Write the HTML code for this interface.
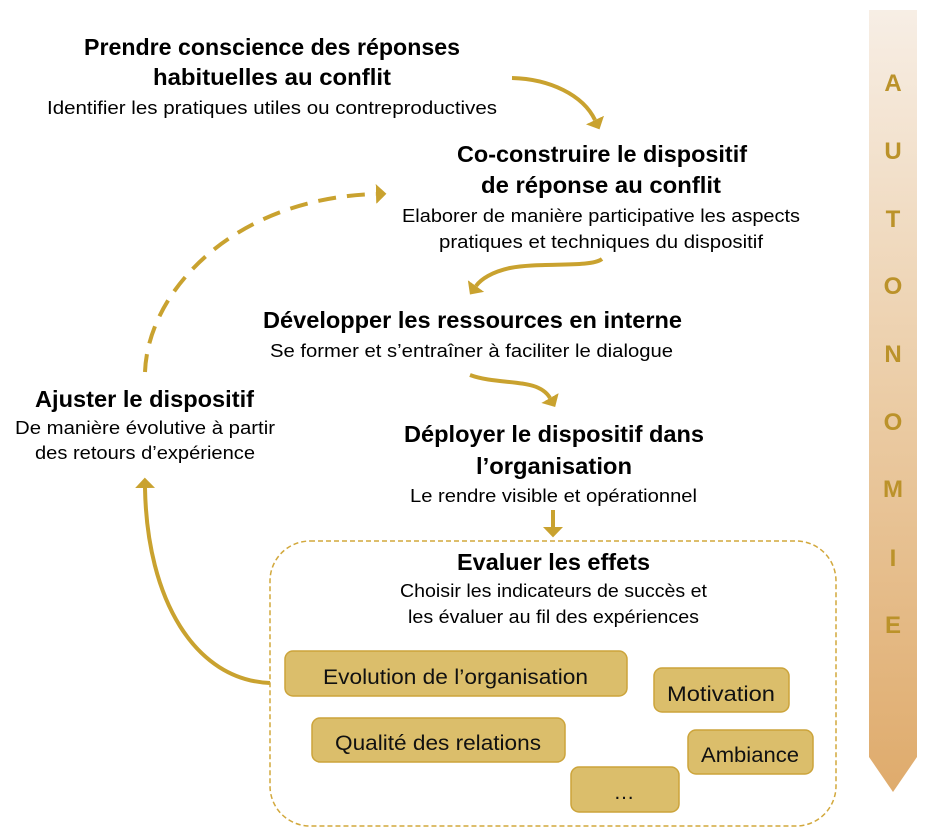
<!DOCTYPE html>
<html>
<head>
<meta charset="utf-8">
<style>
html,body{margin:0;padding:0;background:#fff;}
svg{display:block;}
text{font-family:"Liberation Sans","DejaVu Sans",sans-serif;fill:#000;}
.b{font-weight:bold;font-size:23px;}
.r{font-size:18px;}
.bx{font-size:21px;fill:#111;}
.au{font-weight:bold;font-size:24px;fill:#bb922a;}
</style>
</head>
<body>
<svg width="945" height="840" viewBox="0 0 945 840" xmlns="http://www.w3.org/2000/svg">
<defs>
<linearGradient id="ag" x1="0" y1="0" x2="0" y2="1">
<stop offset="0" stop-color="#f7eee5"/>
<stop offset="0.5" stop-color="#ebcca5"/>
<stop offset="1" stop-color="#dfab6c"/>
</linearGradient>
<marker id="ah" viewBox="0 0 10 10" refX="0" refY="5" markerWidth="2.6" markerHeight="5" orient="auto" markerUnits="strokeWidth" preserveAspectRatio="none">
<path d="M0,0 L10,5 L0,10 z" fill="#c9a22f"/>
</marker>
</defs>

<!-- AUTONOMIE arrow -->
<polygon points="869,10 917,10 917,757 893,792 869,757" fill="url(#ag)"/>
<g text-anchor="middle">
<text class="au" x="893" y="91">A</text>
<text class="au" x="893" y="159">U</text>
<text class="au" x="893" y="227">T</text>
<text class="au" x="893" y="294">O</text>
<text class="au" x="893" y="362">N</text>
<text class="au" x="893" y="430">O</text>
<text class="au" x="893" y="497">M</text>
<text class="au" x="893" y="566">I</text>
<text class="au" x="893" y="633">E</text>
</g>

<!-- connectors -->
<g fill="none" stroke="#c9a22f" stroke-width="4" stroke-linecap="butt">
<path d="M512,78 C550,79 583,95 595,120" marker-end="url(#ah)"/>
<path d="M602,259 C590,268 540,262 510,268 C492,272 481,279 476,286" marker-end="url(#ah)"/>
<path d="M470,375 C500,386 538,377 550,398" marker-end="url(#ah)"/>
<path d="M553,510 L553,527" marker-end="url(#ah)"/>
<path d="M270,683 C195,680 147,600 145,488" marker-end="url(#ah)"/>
<path d="M145,372 C148,290 235,198 376,194" stroke-dasharray="18 11" marker-end="url(#ah)"/>
</g>

<!-- dashed container -->
<rect x="270" y="541" width="566" height="285" rx="40" ry="40" fill="none" stroke="#d2a83c" stroke-width="1.5" stroke-dasharray="5 3"/>

<!-- boxes -->
<g fill="#dbbe6b" stroke="#cca43a" stroke-width="1.5">
<rect x="285" y="651" width="342" height="45" rx="8"/>
<rect x="654" y="668" width="135" height="44" rx="8"/>
<rect x="312" y="718" width="253" height="44" rx="8"/>
<rect x="688" y="730" width="125" height="44" rx="8"/>
<rect x="571" y="767" width="108" height="45" rx="8"/>
</g>
<text class="bx" x="323" y="684" textLength="265" lengthAdjust="spacingAndGlyphs">Evolution de l’organisation</text>
<text class="bx" x="667" y="701" textLength="108" lengthAdjust="spacingAndGlyphs">Motivation</text>
<text class="bx" x="335" y="750" textLength="206" lengthAdjust="spacingAndGlyphs">Qualité des relations</text>
<text class="bx" x="701" y="762" textLength="98" lengthAdjust="spacingAndGlyphs">Ambiance</text>
<text class="bx" x="624" y="799" text-anchor="middle">…</text>

<!-- texts -->
<text class="b" x="84" y="55" textLength="376" lengthAdjust="spacingAndGlyphs">Prendre conscience des réponses</text>
<text class="b" x="153" y="85" textLength="238" lengthAdjust="spacingAndGlyphs">habituelles au conflit</text>
<text class="r" x="47" y="114" textLength="450" lengthAdjust="spacingAndGlyphs">Identifier les pratiques utiles ou contreproductives</text>

<text class="b" x="457" y="162" textLength="290" lengthAdjust="spacingAndGlyphs">Co-construire le dispositif</text>
<text class="b" x="481" y="193" textLength="240" lengthAdjust="spacingAndGlyphs">de réponse au conflit</text>
<text class="r" x="402" y="222" textLength="398" lengthAdjust="spacingAndGlyphs">Elaborer de manière participative les aspects</text>
<text class="r" x="439" y="248" textLength="324" lengthAdjust="spacingAndGlyphs">pratiques et techniques du dispositif</text>

<text class="b" x="263" y="328" textLength="419" lengthAdjust="spacingAndGlyphs">Développer les ressources en interne</text>
<text class="r" x="270" y="357" textLength="403" lengthAdjust="spacingAndGlyphs">Se former et s’entraîner à faciliter le dialogue</text>

<text class="b" x="404" y="442" textLength="300" lengthAdjust="spacingAndGlyphs">Déployer le dispositif dans</text>
<text class="b" x="476" y="474" textLength="156" lengthAdjust="spacingAndGlyphs">l’organisation</text>
<text class="r" x="410" y="502" textLength="287" lengthAdjust="spacingAndGlyphs">Le rendre visible et opérationnel</text>

<text class="b" x="35" y="407" textLength="219" lengthAdjust="spacingAndGlyphs">Ajuster le dispositif</text>
<text class="r" x="15" y="434" textLength="260" lengthAdjust="spacingAndGlyphs">De manière évolutive à partir</text>
<text class="r" x="35" y="459" textLength="220" lengthAdjust="spacingAndGlyphs">des retours d’expérience</text>

<text class="b" x="457" y="570" textLength="193" lengthAdjust="spacingAndGlyphs">Evaluer les effets</text>
<text class="r" x="400" y="597" textLength="307" lengthAdjust="spacingAndGlyphs">Choisir les indicateurs de succès et</text>
<text class="r" x="408" y="623" textLength="291" lengthAdjust="spacingAndGlyphs">les évaluer au fil des expériences</text>
</svg>
</body>
</html>
